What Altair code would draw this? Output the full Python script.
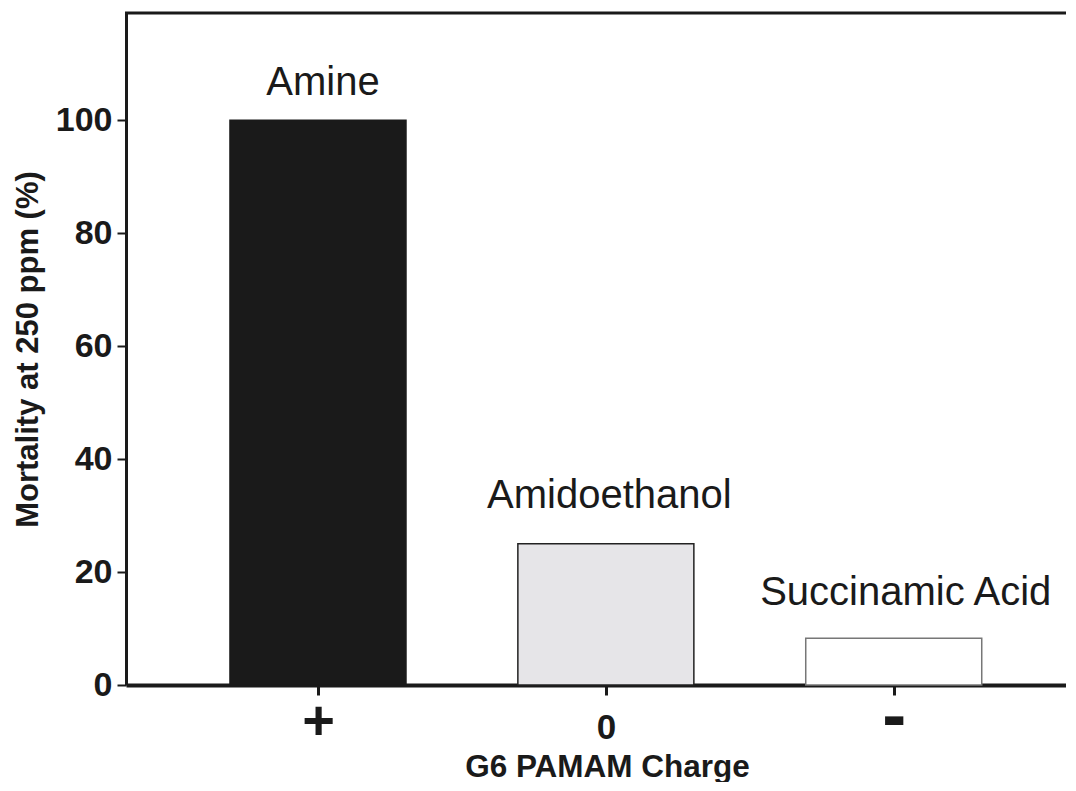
import altair as alt
import pandas as pd

# ---- data ----
charges = ["+", "0", "-"]
groups = ["Amine", "Amidoethanol", "Succinamic Acid"]
mortality = [100, 25, 8.3]
positions = [1, 2, 3]

df = pd.DataFrame({"pos": positions, "charge": charges, "group": groups, "mortality": mortality})

# ---- styling ----
FONT = "Liberation Sans"
INK = "#1a1a1a"
W, H = 940, 672
fills = ["#1a1a1a", "#e6e5e8", "#ffffff"]
strokes = ["#1a1a1a", "#222222", "#777777"]
label_dx = [5, 3.5, 12]
label_dy = [-25, -36, -33]

label_expr = "[" + ",".join("'" + c + "'" for c in charges) + "][datum.value - 1]"

x_enc = alt.X(
    "pos:Q",
    scale=alt.Scale(domain=[0.3505, 3.581], nice=False, zero=False),
    axis=alt.Axis(
        values=positions,
        labelExpr=label_expr,
        title="G6 PAMAM Charge",
        titleFont=FONT,
        titleFontSize=31.5,
        titleFontWeight="bold",
        titleColor=INK,
        titleX=481,
        titleY=91,
        titleBaseline="alphabetic",
        labelFont=FONT,
        labelFontWeight="bold",
        labelColor=INK,
        labelFontSize={
            "condition": [
                {"test": "datum.value == 1", "value": 56},
                {"test": "datum.value == 3", "value": 72},
            ],
            "value": 35,
        },
        labelBaseline="alphabetic",
        labelPadding=43,
        tickSize=10,
        tickWidth=3,
        tickColor=INK,
        domainWidth=4,
        domainColor=INK,
        grid=False,
    ),
)

y_enc = alt.Y(
    "mortality:Q",
    scale=alt.Scale(domain=[0, 119], nice=False),
    axis=alt.Axis(
        values=[0, 20, 40, 60, 80, 100],
        title="Mortality at 250 ppm (%)",
        titleFont=FONT,
        titleFontSize=31,
        titleFontWeight="bold",
        titleColor=INK,
        titleX=-89,
        titleBaseline="alphabetic",
        labelFont=FONT,
        labelFontSize=34,
        labelFontWeight="bold",
        labelColor=INK,
        labelPadding=5,
        tickSize=9,
        tickWidth=2,
        tickColor=INK,
        domainWidth=3,
        domainColor=INK,
        grid=False,
    ),
)

bars = alt.Chart(df).mark_bar(size=176, strokeWidth=1.5).encode(
    x=x_enc,
    y=y_enc,
    fill=alt.Fill("group:N", scale=alt.Scale(domain=groups, range=fills), legend=None),
    stroke=alt.Stroke("group:N", scale=alt.Scale(domain=groups, range=strokes), legend=None),
)

texts = []
for g, dx, dy in zip(groups, label_dx, label_dy):
    texts.append(
        alt.Chart(df)
        .transform_filter(alt.datum.group == g)
        .mark_text(font=FONT, fontSize=40, color=INK, baseline="alphabetic", align="center", dx=dx, dy=dy)
        .encode(x=x_enc, y=y_enc, text="group:N")
    )

frame = alt.Chart(pd.DataFrame({"k": [0]})).mark_rule(strokeWidth=3, color=INK).encode(
    x=alt.value(-1), x2=alt.value(W), y=alt.value(0)
)

chart = (
    alt.layer(bars, *texts, frame)
    .properties(
        width=W,
        height=H,
        autosize="none",
        padding={"left": 118, "top": 5, "right": 0, "bottom": 97},
        background="white",
    )
    .configure_view(strokeWidth=0)
)

chart.save("out.html", embed_options={"renderer": "svg", "actions": False})
